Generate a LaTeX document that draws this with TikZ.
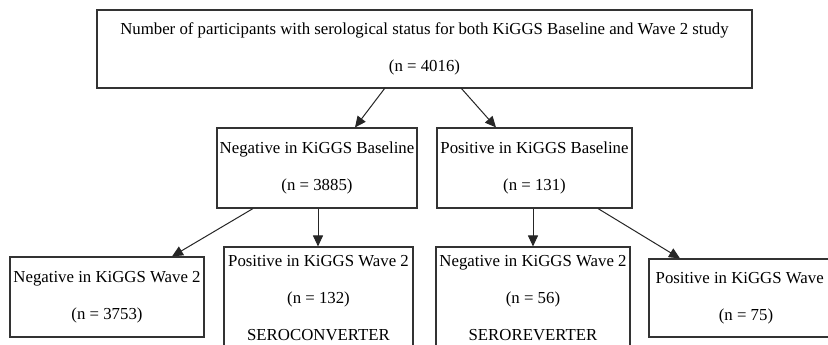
\documentclass[tikz,border=0pt]{standalone}
\usepackage{fontspec}
\setmainfont{Liberation Serif}
\usetikzlibrary{positioning, arrows.meta}

\begin{document}
\begin{tikzpicture}[x=1pt, y=-1pt,
    box/.style={draw=black!80, line width=1.1pt, fill=white, inner sep=0pt, align=center,
        font=\fontsize{16.8}{37}\selectfont},
    arr/.style={draw=black!85, line width=1pt, -{Triangle[length=11pt, width=10pt]}}]
    % cadre de l'image
    \path[use as bounding box, clip] (0,0) rectangle (828,345);
    \fill[white] (0,0) rectangle (828,345);

    % niveau 1
    \node[box, minimum width=655pt, minimum height=78pt] (tot) at (424.5,49)
        {Number of participants with serological status for both KiGGS Baseline and Wave 2 study\\(n = 4016)};

    % niveau 2
    \node[box, minimum width=200pt, minimum height=80pt] (negbl) at (317,168)
        {Negative in KiGGS Baseline\\(n = 3885)};
    \node[box, minimum width=195pt, minimum height=80pt] (posbl) at (534.5,168)
        {Positive in KiGGS Baseline\\(n = 131)};

    % niveau 3
    \node[box, minimum width=194pt, minimum height=80pt] (negneg) at (107,297)
        {Negative in KiGGS Wave 2\\(n = 3753)};
    \node[box, minimum width=189pt, minimum height=102pt] (negpos) at (318.5,298)
        {Positive in KiGGS Wave 2\\(n = 132)\\SEROCONVERTER};
    \node[box, minimum width=194pt, minimum height=102pt] (posneg) at (533,298)
        {Negative in KiGGS Wave 2\\(n = 56)\\SEROREVERTER};
    \node[box, minimum width=194pt, minimum height=78pt] (pospos) at (746,298)
        {Positive in KiGGS Wave 2\\(n = 75)};

    % fleches
    \coordinate (t1) at (385,88);
    \coordinate (t2) at (461,88);
    \draw[arr] (t1) -- (negbl.north -| 355,0);
    \draw[arr] (t2) -- (posbl.north -| 496,0);
    \draw[arr] (negbl.south -| 253,0) -- (negneg.north -| 172,0);
    \draw[arr] (negbl.south -| 318,0) -- (negpos.north -| 318,0);
    \draw[arr] (posbl.south -| 533,0) -- (posneg.north -| 533,0);
    \draw[arr] (posbl.south -| 598,0) -- (pospos.north -| 680,0);
\end{tikzpicture}
\end{document}
